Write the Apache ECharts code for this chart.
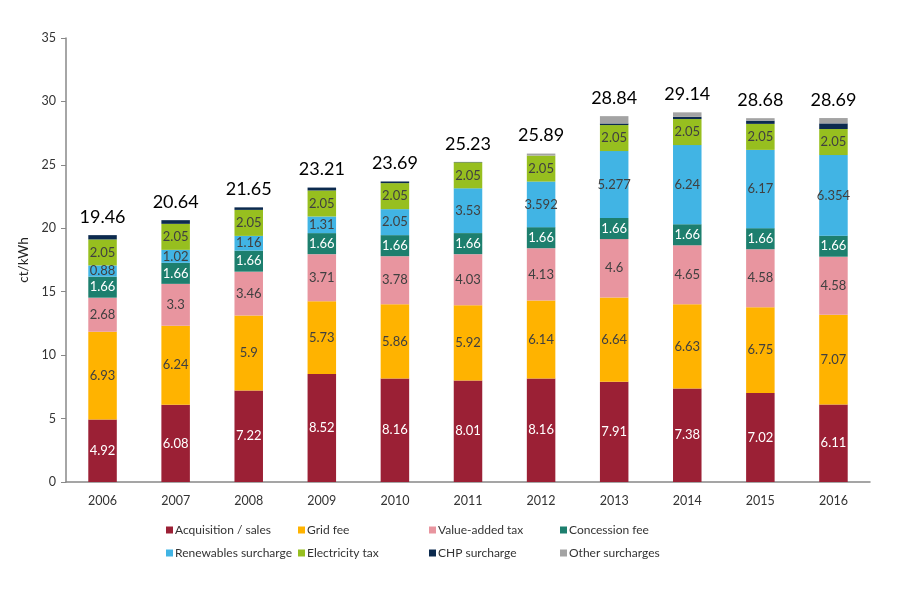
<!DOCTYPE html>
<html>
<head>
<meta charset="utf-8">
<script src="https://cdn.jsdelivr.net/npm/echarts@6/dist/echarts.min.js"></script>
<style>html,body{margin:0;padding:0;background:#fff}#c{width:905px;height:591px}</style>
</head>
<body>
<div id="c"></div>
<script>
const years = ['2006','2007','2008','2009','2010','2011','2012','2013','2014','2015','2016'];
const acquisition = [4.92,6.08,7.22,8.52,8.16,8.01,8.16,7.91,7.38,7.02,6.11];
const gridFee = [6.93,6.24,5.9,5.73,5.86,5.92,6.14,6.64,6.63,6.75,7.07];
const vat = [2.68,3.3,3.46,3.71,3.78,4.03,4.13,4.6,4.65,4.58,4.58];
const concession = [1.66,1.66,1.66,1.66,1.66,1.66,1.66,1.66,1.66,1.66,1.66];
const renewables = [0.88,1.02,1.16,1.31,2.05,3.53,3.592,5.277,6.24,6.17,6.354];
const electricityTax = [2.05,2.05,2.05,2.05,2.05,2.05,2.05,2.05,2.05,2.05,2.05];
const chp = [0.34,0.29,0.2,0.23,0.13,0.03,0.002,0.126,0.178,0.254,0.445];
const other = [0,0,0,0,0,0,0.156,0.577,0.352,0.196,0.421];
const totals = ['19.46','20.64','21.65','23.21','23.69','25.23','25.89','28.84','29.14','28.68','28.69'];
const yTicks = [0,5,10,15,20,25,30,35];

const font = 'Lato';
const names = ['Acquisition / sales','Grid fee','Value-added tax','Concession fee','Renewables surcharge','Electricity tax','CHP surcharge','Other surcharges'];
const colors = ['#9B2035','#FFB300','#E8959F','#1D7F6E','#41B4E4','#97BF1F','#0C2A4E','#A3A3A3'];
const dataSets = [acquisition,gridFee,vat,concession,renewables,electricityTax,chp,other];
const labelColors = ['#ffffff','#404040','#404040','#ffffff','#404040','#404040',null,null];

const series = dataSets.map((d,i)=>({
  name: names[i], type:'bar', stack:'total', data:d, barWidth:'39%',
  itemStyle:{color:colors[i]},
  label: labelColors[i] ? {show:true, position:'inside', color:labelColors[i], fontFamily:font, fontSize:13,
    formatter:p=>String(p.value)} : {show:false}
}));
series.push({
  name:'total', type:'bar', stack:'total', data:years.map(()=>0), barWidth:'39%',
  itemStyle:{color:'transparent'},
  label:{show:true, position:'top', distance:9, color:'#000', fontFamily:font, fontSize:18,
    formatter:p=>totals[p.dataIndex]}
});

const legendPos = [[166,524],[298,524],[429,524],[560,524],[166,547],[298,547],[429,547],[560,547]];
const legends = names.map((n,i)=>({
  data:[n], left:legendPos[i][0], top:legendPos[i][1], itemWidth:7, itemHeight:7, itemGap:3,
  icon:'rect', textStyle:{fontFamily:font, fontSize:12, color:'#333', padding:[0,0,0,-3]}, padding:0
}));

const chart = echarts.init(document.getElementById('c'), null, {renderer:'canvas'});
chart.setOption({
  animation:false,
  backgroundColor:'#fff',
  grid:{left:66, right:35, top:38, bottom:109, containLabel:false},
  legend:legends,
  xAxis:{type:'category', data:years,
    axisLine:{lineStyle:{color:'#888', width:1.5}}, axisTick:{show:false},
    axisLabel:{color:'#333', fontFamily:font, fontSize:12.5, margin:12}},
  yAxis:{type:'value', min:0, max:35, interval:5,
    name:'ct/kWh', nameLocation:'middle', nameGap:33, nameRotate:90,
    nameTextStyle:{color:'#222', fontFamily:font, fontSize:13.5},
    axisLine:{show:true, lineStyle:{color:'#888', width:1.5}},
    axisTick:{show:true, length:5, lineStyle:{color:'#888'}},
    splitLine:{show:false},
    axisLabel:{color:'#333', fontFamily:font, fontSize:12.5, margin:10,
      formatter:v=>yTicks.includes(v)?String(v):''}},
  series:series
});
</script>
</body>
</html>
